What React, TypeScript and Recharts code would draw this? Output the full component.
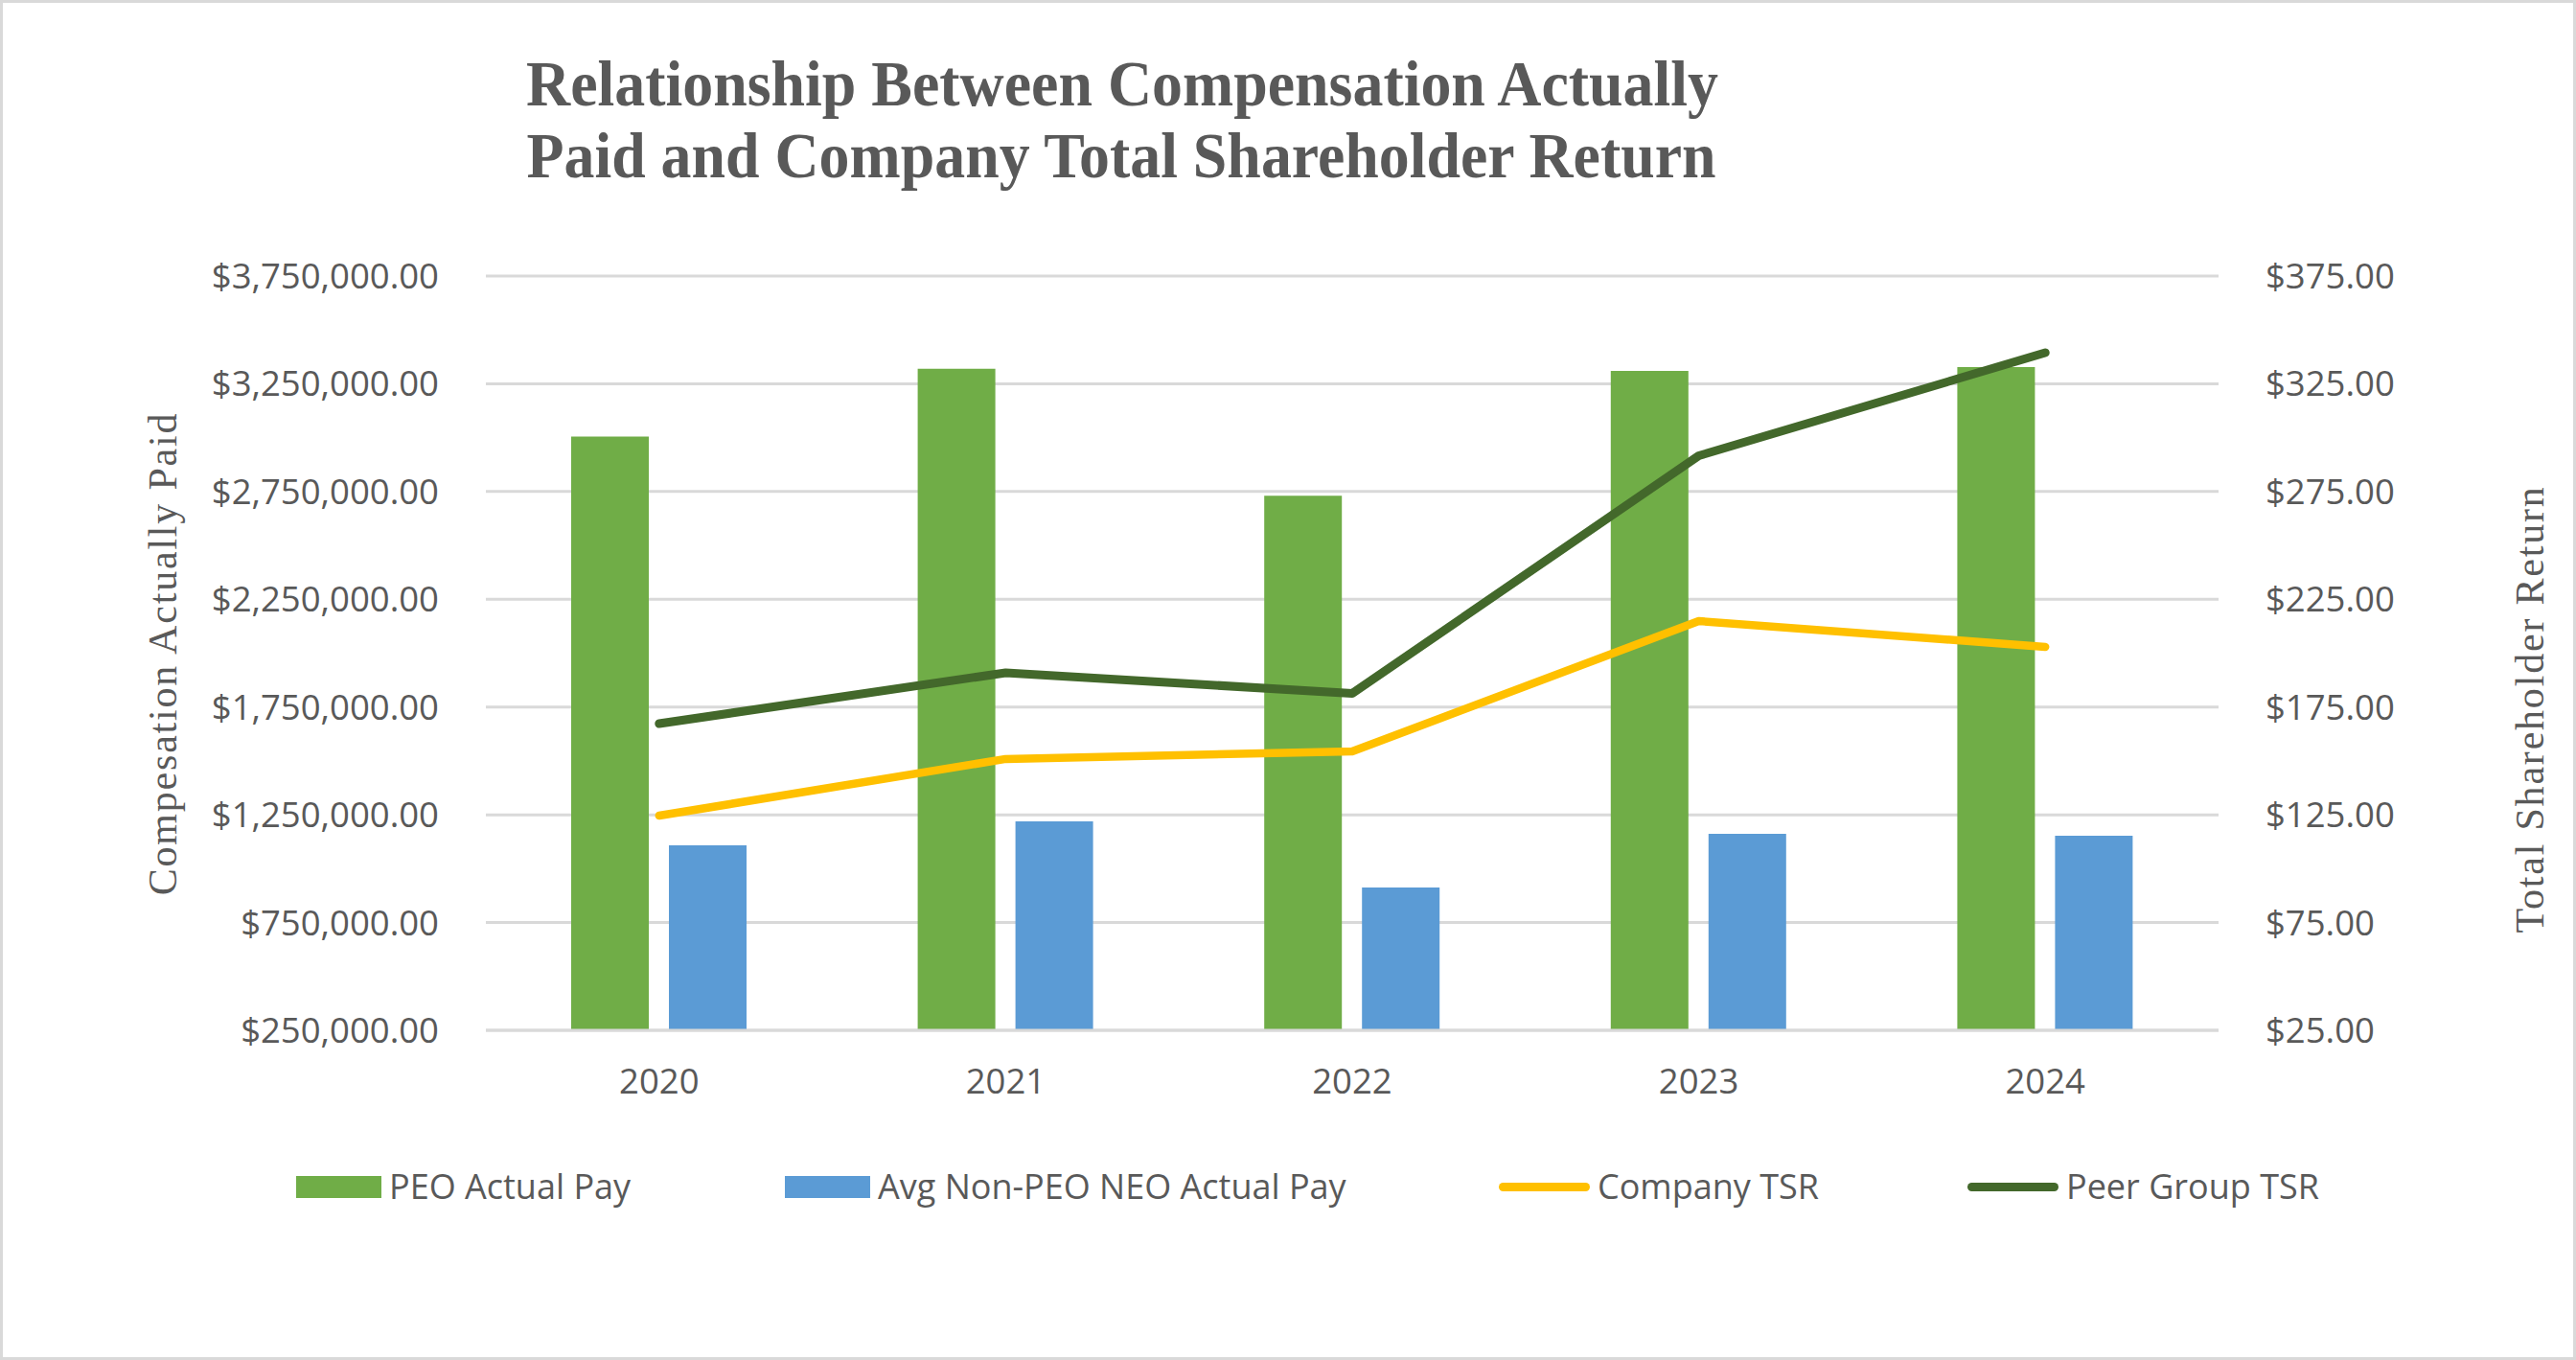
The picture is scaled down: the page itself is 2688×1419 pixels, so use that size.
import React from 'react';
import { ComposedChart, Bar, Line, XAxis, YAxis, CartesianGrid } from 'recharts';

const years = ['2020', '2021', '2022', '2023', '2024'];
const peoActualPay = [3005000, 3320000, 2730000, 3310000, 3327000];
const nonPeoNeoActualPay = [1108000, 1219000, 913000, 1162000, 1153000];
const companyTsr = [124.6, 150.9, 154.4, 214.9, 202.9];
const peerGroupTsr = [167.3, 190.9, 181.3, 291.6, 339.4];

const leftTicks = [250000, 750000, 1250000, 1750000, 2250000, 2750000, 3250000, 3750000];
const rightTicks = [25, 75, 125, 175, 225, 275, 325, 375];

const titleLines = ['Relationship Between Compensation Actually', 'Paid and Company Total Shareholder Return'];
const leftAxisTitle = 'Compesation Actually Paid';
const rightAxisTitle = 'Total Shareholder Return';

const seriesNames = ['PEO Actual Pay', 'Avg Non-PEO NEO Actual Pay', 'Company TSR', 'Peer Group TSR'];

const data = years.map((year, i) => ({
  year,
  peo: peoActualPay[i],
  nonPeo: nonPeoNeoActualPay[i],
  company: companyTsr[i],
  peer: peerGroupTsr[i],
}));

const GREEN = '#70AD47';
const BLUE = '#5B9BD5';
const YELLOW = '#FFC000';
const DARK_GREEN = '#43682B';
const TEXT = '#595959';
const GRID = '#D9D9D9';
const SANS = "'Open Sans', 'Noto Sans', sans-serif";
const SERIF = "'Liberation Serif', 'DejaVu Serif', serif";

const fmtMoney = (v: number) =>
  '$' + v.toLocaleString('en-US', { minimumFractionDigits: 2, maximumFractionDigits: 2 });

const legendItems = [
  { name: seriesNames[0], color: GREEN, kind: 'bar', left: 309 },
  { name: seriesNames[1], color: BLUE, kind: 'bar', left: 819 },
  { name: seriesNames[2], color: YELLOW, kind: 'line', left: 1564 },
  { name: seriesNames[3], color: DARK_GREEN, kind: 'line', left: 2053 },
];

export default function App() {
  const tickStyle = { fill: TEXT, fontSize: 36.5, fontFamily: SANS };
  return (
    <div style={{ position: 'absolute', left: 0, top: 0, width: 2688, height: 1419, background: '#fff', overflow: 'hidden' }}>
      <div style={{ position: 'absolute', left: 0, top: 0 }}>
        <ComposedChart
          width={2688}
          height={1419}
          data={data}
          margin={{ top: 288, right: 0, bottom: 284, left: 0 }}
          barSize={81}
          barGap={21}
        >
          <CartesianGrid yAxisId="left" vertical={false} stroke={GRID} strokeWidth={3} />
          <XAxis
            dataKey="year"
            height={60}
            tickLine={false}
            axisLine={{ stroke: GRID, strokeWidth: 3 }}
            tickSize={0}
            tickMargin={40}
            tick={tickStyle}
            interval={0}
          />
          <YAxis
            yAxisId="left"
            orientation="left"
            width={507}
            domain={[250000, 3750000]}
            ticks={leftTicks}
            tickFormatter={fmtMoney}
            axisLine={false}
            tickLine={false}
            tickSize={0}
            tickMargin={49}
            tick={tickStyle}
            interval={0}
          />
          <YAxis
            yAxisId="right"
            orientation="right"
            width={373}
            domain={[25, 375]}
            ticks={rightTicks}
            tickFormatter={fmtMoney}
            axisLine={false}
            tickLine={false}
            tickSize={0}
            tickMargin={49}
            tick={tickStyle}
            interval={0}
          />
          <Bar yAxisId="left" dataKey="peo" name={seriesNames[0]} fill={GREEN} isAnimationActive={false} />
          <Bar yAxisId="left" dataKey="nonPeo" name={seriesNames[1]} fill={BLUE} isAnimationActive={false} />
          <Line
            yAxisId="right"
            type="linear"
            dataKey="company"
            name={seriesNames[2]}
            stroke={YELLOW}
            strokeWidth={8.5}
            strokeLinecap="round"
            strokeLinejoin="round"
            dot={false}
            activeDot={false}
            isAnimationActive={false}
          />
          <Line
            yAxisId="right"
            type="linear"
            dataKey="peer"
            name={seriesNames[3]}
            stroke={DARK_GREEN}
            strokeWidth={9}
            strokeLinecap="round"
            strokeLinejoin="round"
            dot={false}
            activeDot={false}
            isAnimationActive={false}
          />
        </ComposedChart>
      </div>

      <svg
        width={2688}
        height={1419}
        style={{ position: 'absolute', left: 0, top: 0, pointerEvents: 'none' }}
      >
        <text
          x={1171}
          y={110}
          textAnchor="middle"
          fontFamily={SERIF}
          fontWeight="bold"
          fontSize={68}
          fill={TEXT}
          textLength={1244}
          lengthAdjust="spacingAndGlyphs"
        >
          {titleLines[0]}
        </text>
        <text
          x={1170}
          y={185}
          textAnchor="middle"
          fontFamily={SERIF}
          fontWeight="bold"
          fontSize={68}
          fill={TEXT}
          textLength={1241}
          lengthAdjust="spacingAndGlyphs"
        >
          {titleLines[1]}
        </text>
        <text
          x={0}
          y={0}
          transform="translate(184 682) rotate(-90)"
          textAnchor="middle"
          fontFamily={SERIF}
          fontSize={42}
          fill={TEXT}
          letterSpacing={1.8}
        >
          {leftAxisTitle}
        </text>
        <text
          x={0}
          y={0}
          transform="translate(2654 740) rotate(-90)"
          textAnchor="middle"
          fontFamily={SERIF}
          fontSize={42}
          fill={TEXT}
          letterSpacing={1.8}
        >
          {rightAxisTitle}
        </text>
      </svg>

      {legendItems.map((item) => (
        <div
          key={item.name}
          style={{
            position: 'absolute',
            left: item.left,
            top: 1238,
            transform: 'translateY(-50%)',
            display: 'flex',
            alignItems: 'center',
            whiteSpace: 'nowrap',
          }}
        >
          {item.kind === 'bar' ? (
            <div style={{ width: 89, height: 23, background: item.color }} />
          ) : (
            <div style={{ width: 95, height: 9, background: item.color, borderRadius: 5 }} />
          )}
          <span
            style={{
              marginLeft: 8,
              fontFamily: SANS,
              fontSize: 36,
              color: TEXT,
              lineHeight: '48px',
            }}
          >
            {item.name}
          </span>
        </div>
      ))}

      <div
        style={{
          position: 'absolute',
          left: 0,
          top: 0,
          width: 2688,
          height: 1419,
          boxSizing: 'border-box',
          border: `3px solid ${GRID}`,
          pointerEvents: 'none',
        }}
      />
    </div>
  );
}
